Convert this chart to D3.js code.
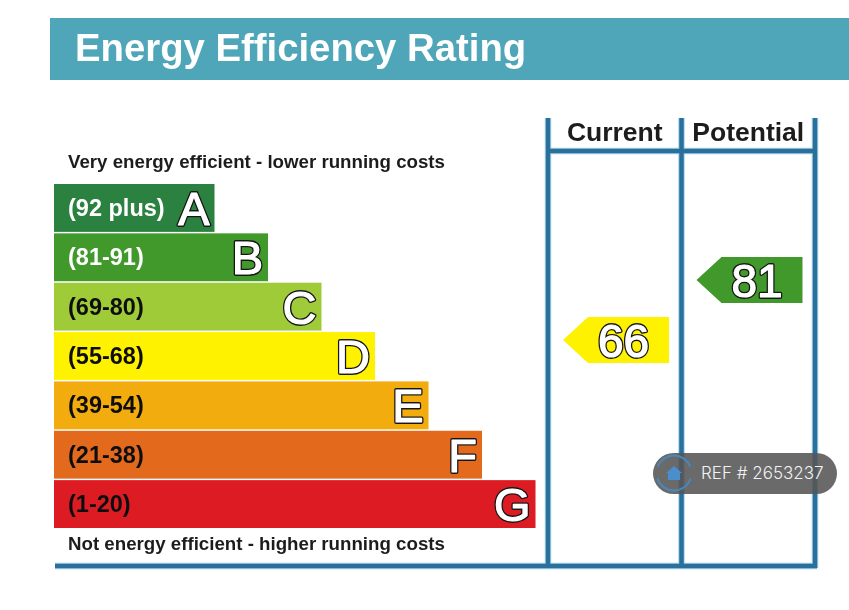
<!DOCTYPE html>
<html lang="en">
<head>
<meta charset="UTF-8">
<title>Energy Efficiency Rating</title>
<script src="https://d3js.org/d3.v7.min.js"></script>
<style>
  html, body { margin: 0; padding: 0; background: #fff; }
  svg { display: block; }
  text { font-family: "Liberation Sans", Arial, sans-serif; }
</style>
</head>
<body>
<div id="chart"></div>
<script>
// Data
const bands = ["A", "B", "C", "D", "E", "F", "G"];
const ranges = ["(92 plus)", "(81-91)", "(69-80)", "(55-68)", "(39-54)", "(21-38)", "(1-20)"];
const barSteps = [3, 4, 5, 6, 7, 8, 9];
const bandColors = ["#2b8140", "#40992c", "#9fcb38", "#fff200", "#f2ac0c", "#e3691e", "#dc1c24"];
const rangeColors = ["#ffffff", "#ffffff", "#111111", "#111111", "#111111", "#111111", "#111111"];
const columns = ["Current", "Potential"];
const scores = [66, 81];
const scoreColors = ["#fff200", "#40992c"];

const width = 849, height = 610;
const ink = "#1c1c1c", rule = "#2b6f9c";

const svg = d3.select("#chart").append("svg")
  .attr("width", width)
  .attr("height", height);

const defs = svg.append("defs");
defs.append("filter").attr("id", "soft").attr("x", "-5%").attr("y", "-5%")
  .attr("width", "110%").attr("height", "110%")
  .append("feGaussianBlur").attr("stdDeviation", 0.45);

const root = svg.append("g").attr("filter", "url(#soft)");

// Big letters: dark outline first, solid white core over it
function outlined(sel, size, xPos, yPos, anchor) {
  [["#161616", 3.8], ["#ffffff", 1.2]].forEach(([color, w]) => {
    sel.append("text")
      .attr("x", xPos)
      .attr("y", yPos)
      .attr("text-anchor", anchor)
      .attr("font-size", size)
      .attr("fill", color)
      .attr("stroke", color)
      .attr("stroke-width", w)
      .attr("stroke-linejoin", "round")
      .text(d => d);
  });
}

// Header
root.append("rect")
  .attr("x", 50).attr("y", 18)
  .attr("width", width - 50).attr("height", 62)
  .attr("fill", "#4fa6b9");
root.append("text")
  .attr("x", 75).attr("y", 61)
  .attr("font-size", 38.3).attr("font-weight", 700)
  .attr("fill", "#fff")
  .text("Energy Efficiency Rating");

// Scales
const y = d3.scaleBand().domain(bands).range([184, 528]).paddingInner(0.03).paddingOuter(0);
const x = d3.scaleLinear().domain([0, 9]).range([54, 535.5]);
const col = d3.scaleBand().domain(columns).range([548, 815]);
const scoreY = d3.scaleLinear().domain([66, 81]).range([340, 280]);

// Captions
const captions = [
  ["Very energy efficient - lower running costs", 168],
  ["Not energy efficient - higher running costs", 550]
];
root.selectAll(".caption")
  .data(captions)
  .join("text")
  .attr("class", "caption")
  .attr("x", 68)
  .attr("y", d => d[1])
  .attr("font-size", 18.7).attr("font-weight", 700)
  .attr("fill", ink)
  .text(d => d[0]);

// Bars
const bar = root.selectAll(".bar")
  .data(bands)
  .join("g")
  .attr("class", "bar")
  .attr("transform", d => `translate(0,${y(d)})`);

bar.append("rect")
  .attr("x", x(0))
  .attr("width", (d, i) => x(barSteps[i]) - x(0))
  .attr("height", y.bandwidth())
  .attr("fill", (d, i) => bandColors[i]);

bar.append("text")
  .attr("x", 68)
  .attr("y", y.bandwidth() / 2 + 8)
  .attr("font-size", 23.5).attr("font-weight", 700)
  .attr("fill", (d, i) => rangeColors[i])
  .text((d, i) => ranges[i]);

outlined(bar, 47, (d, i) => x(barSteps[i]) - 5, y.bandwidth() / 2 + 17, "end");

// Table rules, with the pale edge the scan leaves round them
const ruleLines = [
  [col.range()[0], 118, col.range()[0], 568],
  [col("Potential"), 118, col("Potential"), 568],
  [col.range()[1], 118, col.range()[1], 568],
  [col.range()[0], 151, col.range()[1], 151],
  [55, 566, col.range()[1] + 2, 566]
];
root.selectAll(".rule-edge")
  .data(ruleLines)
  .join("line")
  .attr("class", "rule-edge")
  .attr("x1", d => d[0]).attr("y1", d => d[1])
  .attr("x2", d => d[2]).attr("y2", d => d[3])
  .attr("stroke", "#a8d3e6")
  .attr("stroke-width", 6.5);
root.selectAll(".rule")
  .data(ruleLines)
  .join("line")
  .attr("class", "rule")
  .attr("x1", d => d[0]).attr("y1", d => d[1])
  .attr("x2", d => d[2]).attr("y2", d => d[3])
  .attr("stroke", rule)
  .attr("stroke-width", 4.5);

root.selectAll(".col-label")
  .data(columns)
  .join("text")
  .attr("class", "col-label")
  .attr("x", d => col(d) + col.bandwidth() / 2)
  .attr("y", 141)
  .attr("text-anchor", "middle")
  .attr("font-size", 26.5).attr("font-weight", 700)
  .attr("fill", ink)
  .text(d => d);

// Score arrows
const arrowW = 106, arrowH = 46, tip = 25;
const arrow = root.selectAll(".score")
  .data(scores)
  .join("g")
  .attr("class", "score")
  .attr("transform", (d, i) => `translate(${col(columns[i]) + 15},${scoreY(d)})`);

arrow.append("path")
  .attr("d", d3.line()([[0, 0], [tip, -arrowH / 2], [arrowW, -arrowH / 2], [arrowW, arrowH / 2], [tip, arrowH / 2]]) + "Z")
  .attr("fill", (d, i) => scoreColors[i]);

outlined(arrow, 46, 60.5, 17, "middle");

// Watermark on top, not blurred
const mark = svg.append("g").attr("transform", "translate(653,453)");
mark.append("rect")
  .attr("width", 184).attr("height", 41).attr("rx", 20.5)
  .attr("fill", "#555").attr("fill-opacity", 0.88);
mark.append("path")
  .attr("d", d3.arc()({ innerRadius: 16.5, outerRadius: 18.5, startAngle: -1.2, endAngle: 1.2 }))
  .attr("transform", "translate(21,20)")
  .attr("fill", "#4a86b8");
mark.append("path")
  .attr("d", d3.arc()({ innerRadius: 16.5, outerRadius: 18.5, startAngle: 1.9, endAngle: 4.4 }))
  .attr("transform", "translate(21,20)")
  .attr("fill", "#4a86b8");
mark.append("path")
  .attr("d", d3.line()([[21, 13], [29, 20], [27, 20], [27, 27], [15, 27], [15, 20], [13, 20]]) + "Z")
  .attr("fill", "#4a8fcb");
mark.append("text")
  .attr("x", 48).attr("y", 26)
  .style("font-family", "Inter, sans-serif")
  .attr("font-size", 17).attr("font-weight", 300)
  .attr("fill", "#f2f2f2")
  .text("REF # 2653237");
</script>
</body>
</html>
